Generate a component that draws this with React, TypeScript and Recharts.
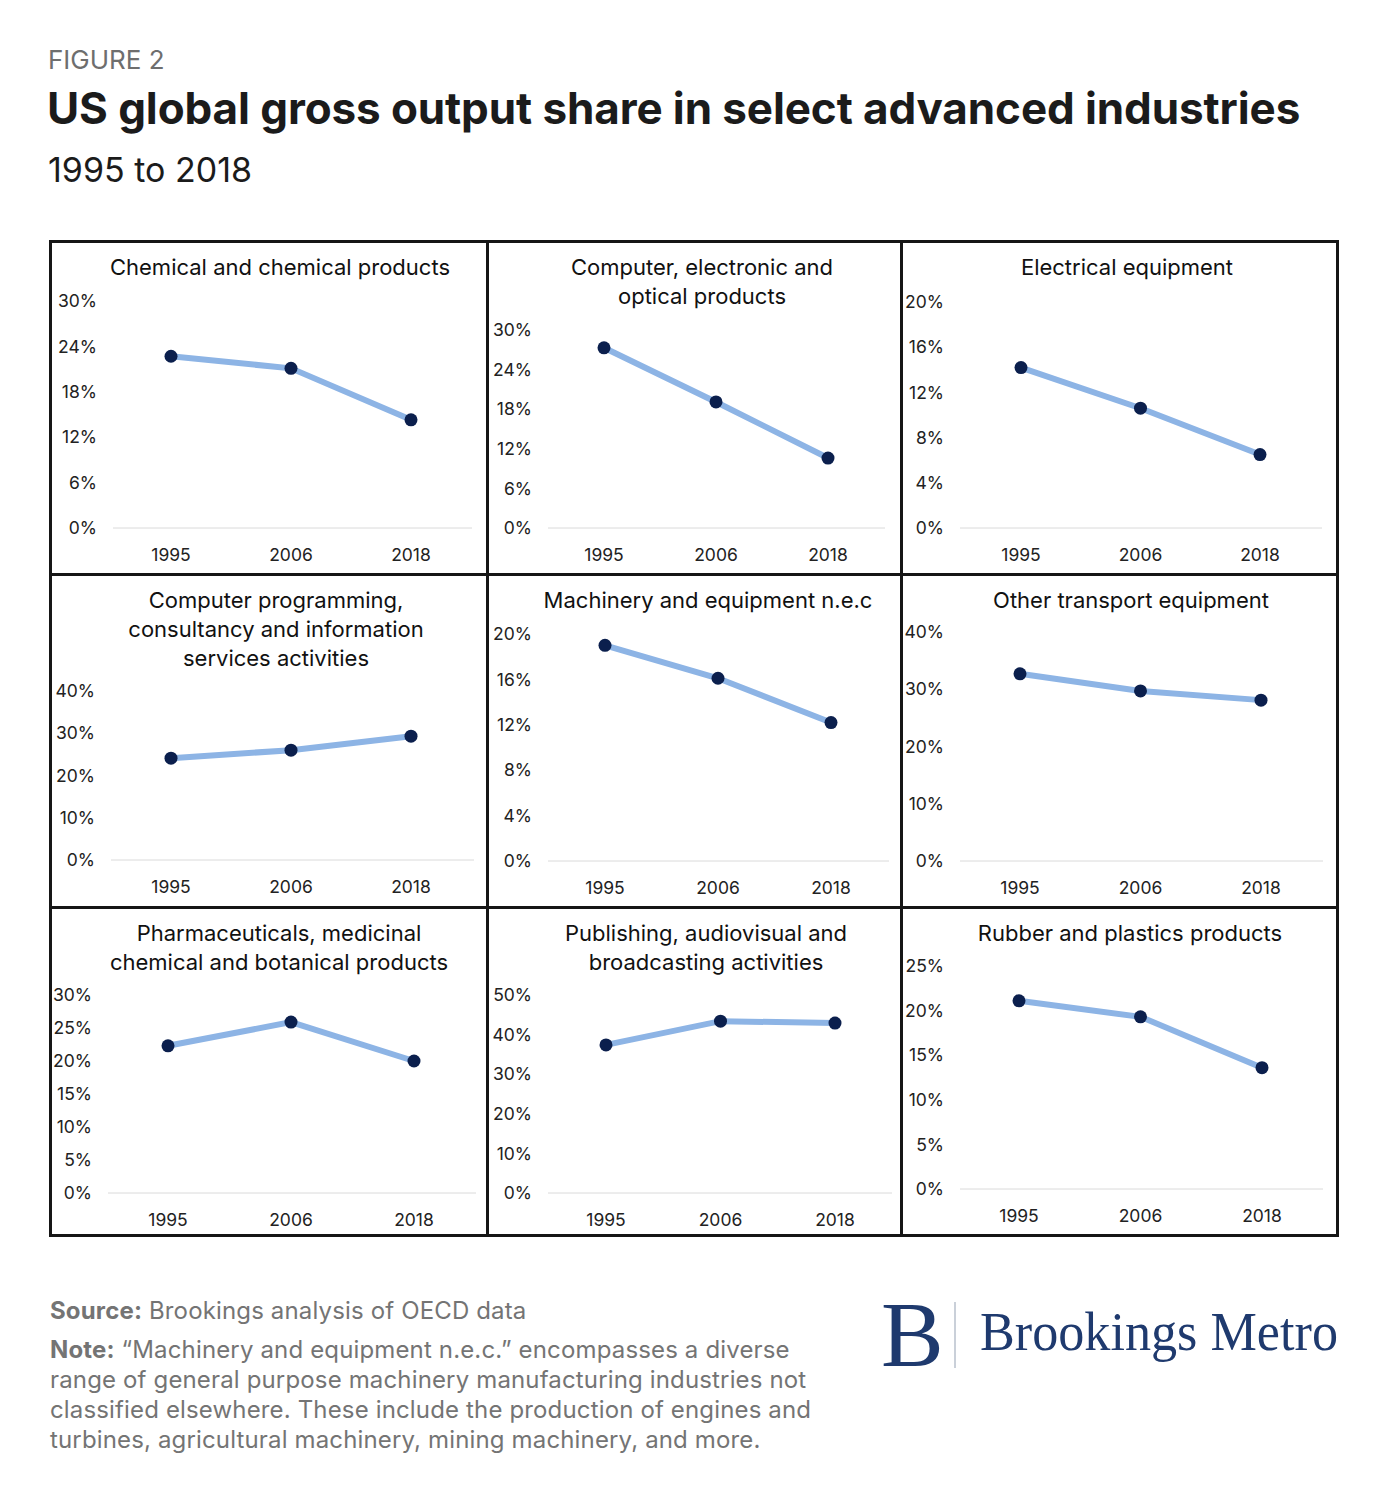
import React from "react";
import { LineChart, Line, XAxis, YAxis, CartesianGrid } from "recharts";

const YEARS = ["1995", "2006", "2018"];

const CHEMICAL = [22.7, 21.1, 14.3];
const COMPUTER_ELECTRONIC = [27.3, 19.1, 10.6];
const ELECTRICAL = [14.2, 10.6, 6.5];
const COMPUTER_PROGRAMMING = [24.1, 26.0, 29.3];
const MACHINERY = [19.0, 16.1, 12.2];
const OTHER_TRANSPORT = [32.7, 29.7, 28.1];
const PHARMA = [22.3, 25.9, 20.0];
const PUBLISHING = [37.4, 43.4, 42.9];
const RUBBER = [21.1, 19.3, 13.6];

const TICKS_30_6 = [0, 6, 12, 18, 24, 30];
const TICKS_20_4 = [0, 4, 8, 12, 16, 20];
const TICKS_40_10 = [0, 10, 20, 30, 40];
const TICKS_30_5 = [0, 5, 10, 15, 20, 25, 30];
const TICKS_50_10 = [0, 10, 20, 30, 40, 50];
const TICKS_25_5 = [0, 5, 10, 15, 20, 25];

const LINE_COLOR = "#8db4e5";
const DOT_COLOR = "#0b1f4d";
const FONT = "Inter, 'Noto Sans', sans-serif";

const COLS = [50, 487, 901, 1338];
const ROWS = [241, 574, 907, 1236];

type Panel = {
  title: string[];
  values: number[];
  ticks: number[];
  col: number;
  row: number;
  top: number; // plot top offset
  bottom: number; // space below plot
  left: number; // plot left offset
  right: number;
  pad: [number, number];
  titleX: number; // title center offset within panel
};

const PANELS: Panel[] = [
  { title: ["Chemical and chemical products"], values: CHEMICAL, ticks: TICKS_30_6, col: 0, row: 0, top: 60, bottom: 46, left: 63, right: 15, pad: [58, 61], titleX: 230 },
  { title: ["Computer, electronic and", "optical products"], values: COMPUTER_ELECTRONIC, ticks: TICKS_30_6, col: 1, row: 0, top: 89, bottom: 46, left: 61, right: 16, pad: [56, 57], titleX: 215 },
  { title: ["Electrical equipment"], values: ELECTRICAL, ticks: TICKS_20_4, col: 2, row: 0, top: 61, bottom: 46, left: 59, right: 16, pad: [61, 62], titleX: 226 },
  { title: ["Computer programming,", "consultancy and information", "services activities"], values: COMPUTER_PROGRAMMING, ticks: TICKS_40_10, col: 0, row: 1, top: 117, bottom: 47, left: 61, right: 13, pad: [60, 63], titleX: 226 },
  { title: ["Machinery and equipment n.e.c"], values: MACHINERY, ticks: TICKS_20_4, col: 1, row: 1, top: 60, bottom: 46, left: 61, right: 12, pad: [57, 58], titleX: 221 },
  { title: ["Other transport equipment"], values: OTHER_TRANSPORT, ticks: TICKS_40_10, col: 2, row: 1, top: 58, bottom: 46, left: 59, right: 15, pad: [60, 62], titleX: 230 },
  { title: ["Pharmaceuticals, medicinal", "chemical and botanical products"], values: PHARMA, ticks: TICKS_30_5, col: 0, row: 2, top: 88, bottom: 43, left: 58, right: 11, pad: [60, 62], titleX: 229 },
  { title: ["Publishing, audiovisual and", "broadcasting activities"], values: PUBLISHING, ticks: TICKS_50_10, col: 1, row: 2, top: 88, bottom: 43, left: 61, right: 9, pad: [58, 57], titleX: 219 },
  { title: ["Rubber and plastics products"], values: RUBBER, ticks: TICKS_25_5, col: 2, row: 2, top: 59, bottom: 47, left: 59, right: 15, pad: [59, 61], titleX: 229 },
];

function SmallChart({ p }: { p: Panel }) {
  const x = COLS[p.col];
  const y = ROWS[p.row];
  const w = COLS[p.col + 1] - x;
  const h = ROWS[p.row + 1] - y;
  const data = YEARS.map((year, i) => ({ year, value: p.values[i] }));
  const max = p.ticks[p.ticks.length - 1];
  return (
    <div style={{ position: "absolute", left: x, top: y, width: w, height: h }}>
      <div
        style={{
          position: "absolute",
          left: p.titleX - 200,
          top: 12,
          width: 400,
          textAlign: "center",
          fontSize: 22,
          lineHeight: "29px",
          color: "#111",
        }}
      >
        {p.title.map((t) => (
          <div key={t}>{t}</div>
        ))}
      </div>
      <div style={{ position: "absolute", left: 0, top: 0 }}>
        <LineChart width={w} height={h} data={data} margin={{ top: p.top, right: p.right, bottom: 0, left: 0 }}>
          <CartesianGrid horizontal={false} vertical={false} />
          <XAxis
            dataKey="year"
            height={p.bottom}
            padding={{ left: p.pad[0], right: p.pad[1] }}
            axisLine={{ stroke: "#dadada", strokeWidth: 1 }}
            tickLine={false}
            tickMargin={15}
            tick={{ fontSize: 17.5, fill: "#222", fontFamily: FONT }}
          />
          <YAxis
            width={p.left}
            domain={[0, max]}
            ticks={p.ticks}
            interval={0}
            axisLine={false}
            tickLine={false}
            tickMargin={10}
            tickFormatter={(v) => `${v}%`}
            tick={{ fontSize: 17.5, fill: "#222", fontFamily: FONT }}
          />
          <Line
            dataKey="value"
            stroke={LINE_COLOR}
            strokeWidth={6}
            dot={{ r: 6.5, fill: DOT_COLOR, stroke: DOT_COLOR, strokeWidth: 0 }}
            activeDot={false}
            isAnimationActive={false}
          />
        </LineChart>
      </div>
    </div>
  );
}

const BORDER = "#161616";

export default function App() {
  return (
    <div
      style={{
        position: "absolute",
        left: 0,
        top: 0,
        width: 1390,
        height: 1500,
        background: "#fff",
        fontFamily: FONT,
        overflow: "hidden",
      }}
    >
      <div style={{ position: "absolute", left: 48, top: 44, fontSize: 26, color: "#6e6e6e" }}>FIGURE 2</div>
      <div style={{ position: "absolute", left: 47, top: 81, fontSize: 44, fontWeight: 700, color: "#1b1b1b", letterSpacing: -0.1 }}>
        US global gross output share in select advanced industries
      </div>
      <div style={{ position: "absolute", left: 48, top: 149, fontSize: 34, color: "#1b1b1b" }}>1995 to 2018</div>

      {PANELS.map((p) => (
        <SmallChart key={p.title.join(" ")} p={p} />
      ))}

      {/* frame */}
      <div
        style={{
          position: "absolute",
          left: COLS[0] - 1,
          top: ROWS[0] - 1,
          width: COLS[3] - COLS[0] + 2,
          height: ROWS[3] - ROWS[0] + 2,
          border: `3px solid ${BORDER}`,
          boxSizing: "border-box",
        }}
      />
      {[COLS[1], COLS[2]].map((cx) => (
        <div key={cx} style={{ position: "absolute", left: cx - 1.5, top: ROWS[0], width: 3, height: ROWS[3] - ROWS[0], background: BORDER }} />
      ))}
      {[ROWS[1], ROWS[2]].map((ry) => (
        <div key={ry} style={{ position: "absolute", left: COLS[0], top: ry - 1.5, width: COLS[3] - COLS[0], height: 3, background: BORDER }} />
      ))}

      <div style={{ position: "absolute", left: 50, top: 1296, fontSize: 24, color: "#747474", lineHeight: "30px", letterSpacing: 0.15 }}>
        <span style={{ fontWeight: 700 }}>Source:</span> Brookings analysis of OECD data
      </div>
      <div style={{ position: "absolute", left: 50, top: 1335, width: 800, fontSize: 24, color: "#747474", lineHeight: "30px", letterSpacing: 0.15 }}>
        <span style={{ fontWeight: 700 }}>Note:</span> “Machinery and equipment n.e.c.” encompasses a diverse
        <br />
        range of general purpose machinery manufacturing industries not
        <br />
        classified elsewhere. These include the production of engines and
        <br />
        turbines, agricultural machinery, mining machinery, and more.
      </div>

      <svg style={{ position: "absolute", left: 870, top: 1270 }} width={480} height={120}>
        <text x={11} y={96} fontFamily="'Liberation Serif', serif" fontSize={94} fill="#1f3a6e">
          B
        </text>
        <line x1={85} y1={32} x2={85} y2={98} stroke="#b9c0cc" strokeWidth={1.5} />
        <text x={110} y={80} fontFamily="'Liberation Serif', serif" fontSize={54} fill="#1f3a6e" textLength={358} lengthAdjust="spacingAndGlyphs">
          Brookings Metro
        </text>
      </svg>
    </div>
  );
}
